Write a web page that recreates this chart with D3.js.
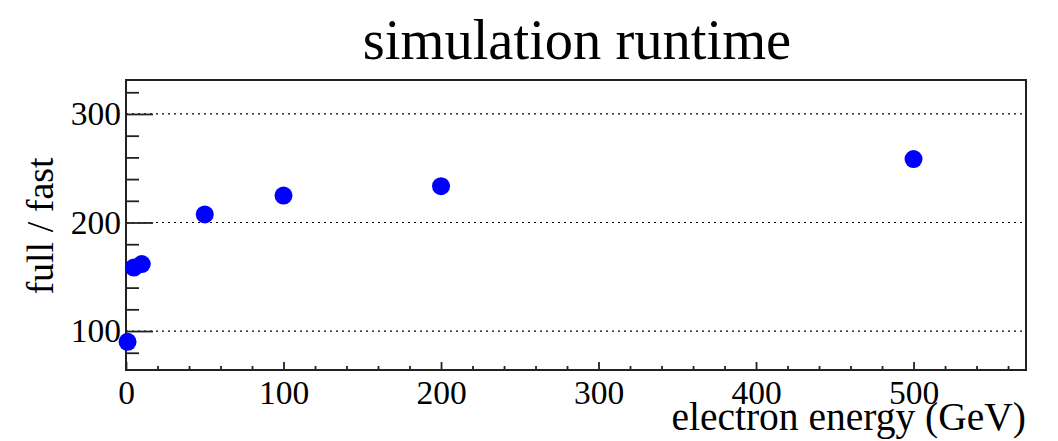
<!DOCTYPE html>
<html>
<head>
<meta charset="utf-8">
<script src="https://cdn.jsdelivr.net/npm/d3@7"></script>
<style>
    body { margin: 0; background: #fff; }
    svg text { font-family: "Liberation Serif", "Times New Roman", serif; fill: #000; }
    .domain { display: none; }
</style>
</head>
<body>
<svg id="chart"></svg>
<script>
// Data
const energy = [1, 5, 10, 50, 100, 200, 500];
const ratio = [90.1, 158.5, 161.7, 207.4, 224.8, 233.5, 258.5];
const xMajorTicks = [0, 100, 200, 300, 400, 500];
const yMajorTicks = [100, 200, 300];

const CONFIG = {
    width: 1058,
    height: 441,
    left: 126,
    right: 1026,
    top: 80,
    bottom: 370,
    xDomain: [0, 571.4],
    yDomain: [64.1, 331.3],
    markerR: 9,
    color: '#0000ff'
};

const svg = d3.select('#chart')
    .attr('width', CONFIG.width)
    .attr('height', CONFIG.height);

const x = d3.scaleLinear().domain(CONFIG.xDomain).range([CONFIG.left, CONFIG.right]);
const y = d3.scaleLinear().domain(CONFIG.yDomain).range([CONFIG.bottom, CONFIG.top]);

const xMinor = d3.range(0, CONFIG.xDomain[1], 20).filter(v => v % 100 !== 0);
const yMinor = d3.range(80, CONFIG.yDomain[1], 20).filter(v => v % 100 !== 0);

// Horizontal dotted grid at major y ticks
svg.append('g')
    .selectAll('line')
    .data(yMajorTicks)
    .enter()
    .append('line')
    .attr('x1', CONFIG.left)
    .attr('x2', CONFIG.right)
    .attr('y1', d => y(d))
    .attr('y2', d => y(d))
    .attr('stroke', '#000')
    .attr('stroke-width', 1.2)
    .attr('stroke-dasharray', '2,4');

// X axis: minor then major ticks, pointing inward
const xAxisG = svg.append('g').attr('transform', `translate(0,${CONFIG.bottom})`);
xAxisG.append('g')
    .call(d3.axisBottom(x).tickValues(xMinor).tickSizeInner(-4).tickSizeOuter(0).tickFormat(''));
xAxisG.append('g')
    .call(d3.axisBottom(x).tickValues(xMajorTicks).tickSizeInner(-8).tickSizeOuter(0).tickPadding(10).tickFormat(d3.format('d')));

// Y axis
const yAxisG = svg.append('g').attr('transform', `translate(${CONFIG.left},0)`);
yAxisG.append('g')
    .call(d3.axisLeft(y).tickValues(yMinor).tickSizeInner(-13).tickSizeOuter(0).tickFormat(''));
yAxisG.append('g')
    .call(d3.axisLeft(y).tickValues(yMajorTicks).tickSizeInner(-27).tickSizeOuter(0).tickPadding(5).tickFormat(d3.format('d')));

svg.selectAll('.tick line').attr('stroke', '#222').attr('stroke-width', 1.8);
svg.selectAll('.tick text').style('font-size', '33.5px');

// Frame
svg.append('rect')
    .attr('x', CONFIG.left)
    .attr('y', CONFIG.top)
    .attr('width', CONFIG.right - CONFIG.left)
    .attr('height', CONFIG.bottom - CONFIG.top)
    .attr('fill', 'none')
    .attr('stroke', '#222')
    .attr('stroke-width', 2);

// Markers
svg.append('g')
    .selectAll('circle')
    .data(energy)
    .enter()
    .append('circle')
    .attr('cx', d => x(d))
    .attr('cy', (d, i) => y(ratio[i]))
    .attr('r', CONFIG.markerR)
    .attr('fill', CONFIG.color);

// Titles
svg.append('text')
    .attr('x', 577)
    .attr('y', 59)
    .attr('text-anchor', 'middle')
    .style('font-size', '56.5px')
    .text('simulation runtime');

svg.append('text')
    .attr('x', CONFIG.right)
    .attr('y', 430)
    .attr('text-anchor', 'end')
    .style('font-size', '39.5px')
    .text('electron energy (GeV)');

svg.append('text')
    .attr('transform', 'translate(53,226) rotate(-90)')
    .attr('text-anchor', 'middle')
    .style('font-size', '38px')
    .text('full / fast');
</script>
</body>
</html>
